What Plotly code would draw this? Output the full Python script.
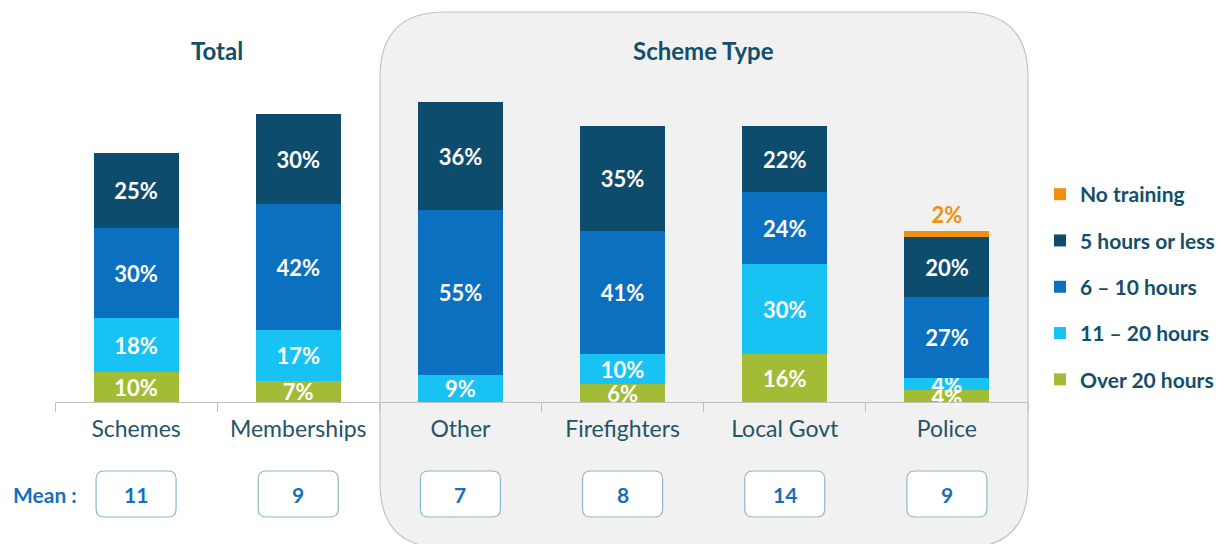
import plotly.graph_objects as go

categories = ["Schemes", "Memberships", "Other", "Firefighters", "Local Govt", "Police"]
over_20 = [10, 7, 0, 6, 16, 4]
h11_20 = [18, 17, 9, 10, 30, 4]
h6_10 = [30, 42, 55, 41, 24, 27]
h5_less = [25, 30, 36, 35, 22, 20]
no_training = [0, 0, 0, 0, 0, 2]
means = [11, 9, 7, 8, 14, 9]
group_titles = ["Total", "Scheme Type"]
group_title_pos = [0.5, 3.5]

series = [
    ("Over 20 hours", over_20, "#a2bd35"),
    ("11 \u2013 20 hours", h11_20, "#18c2f2"),
    ("6 \u2013 10 hours", h6_10, "#0b70bf"),
    ("5 hours or less", h5_less, "#0e4c6e"),
    ("No training", no_training, "#f0900e"),
]

FONT = "Lato, 'Open Sans', sans-serif"
OFF = 8  # page body margin
SW, SH = 1230, 544
W, H = SW - OFF, SH - OFF
# plot area in screen pixels
PX0, PX1, PY0, PY1 = 55, 1028, 72, 402
L, R, T, B = PX0 - OFF, W - (PX1 - OFF), PY0 - OFF, H - (PY1 - OFF)
PW, PH = PX1 - PX0, PY1 - PY0
YMAX = 110


def px_x(px):
    return (px - PX0) / PW


def px_y(py):
    return (PY1 - py) / PH


fig = go.Figure()
n = len(series)
for k, (name, vals, color) in enumerate(series):
    is_top = name == "No training"
    fig.add_trace(go.Bar(
        x=categories, y=vals, name=name, legendgroup=name,
        legendrank=n - k,
        marker=dict(color=color, line=dict(width=0)),
        text=[f"{v}%" if v else "" for v in vals],
        textposition="outside" if is_top else "inside",
        insidetextanchor="middle",
        textangle=0,
        textfont=dict(family=FONT, size=22, weight="bold",
                      color=color if is_top else "white"),
        cliponaxis=False,
        hoverinfo="skip",
    ))

shapes = []
# rounded background panel for "Scheme Type"
bx0, bx1, by0, by1, rad = 380, 1028, 12, 548, 65
rx, ry = rad / PW, rad / PH
X0, X1, Y0, Y1 = px_x(bx0), px_x(bx1), px_y(by0), px_y(by1)
path = (f"M {X0+rx},{Y0} L {X1-rx},{Y0} Q {X1},{Y0} {X1},{Y0-ry} "
        f"L {X1},{Y1+ry} Q {X1},{Y1} {X1-rx},{Y1} L {X0+rx},{Y1} "
        f"Q {X0},{Y1} {X0},{Y1+ry} L {X0},{Y0-ry} Q {X0},{Y0} {X0+rx},{Y0} Z")
shapes.append(dict(type="path", path=path, xref="paper", yref="paper",
                   fillcolor="#f1f1f1", line=dict(color="#c4c4c4", width=1.2),
                   layer="below"))

# mean boxes
mean_y = px_y(494)
bw, bh, br = 40, 23, 8
box_path = (f"M {-bw+br},{bh} L {bw-br},{bh} Q {bw},{bh} {bw},{bh-br} "
            f"L {bw},{-bh+br} Q {bw},{-bh} {bw-br},{-bh} L {-bw+br},{-bh} "
            f"Q {-bw},{-bh} {-bw},{-bh+br} L {-bw},{bh-br} Q {-bw},{bh} {-bw+br},{bh} Z")
annotations = []
for i, m in enumerate(means):
    shapes.append(dict(type="path", path=box_path, xref="x", yref="paper",
                       xsizemode="pixel", ysizemode="pixel",
                       xanchor=i, yanchor=mean_y,
                       fillcolor="white", line=dict(color="#8fb8c6", width=1.2),
                       layer="above"))
    annotations.append(dict(x=categories[i], y=mean_y, xref="x", yref="paper",
                            text=f"<b>{m}</b>", showarrow=False, yanchor="middle",
                            font=dict(family=FONT, size=21, color="#1570b8")))

annotations.append(dict(x=px_x(45), y=mean_y, xref="paper", yref="paper",
                        text="<b>Mean :</b>", showarrow=False, xanchor="center",
                        yanchor="middle",
                        font=dict(family=FONT, size=21, color="#1570b8")))

for t, pos in zip(group_titles, group_title_pos):
    annotations.append(dict(x=pos, y=px_y(50), xref="x", yref="paper",
                            text=f"<b>{t}</b>", showarrow=False, yanchor="middle",
                            font=dict(family=FONT, size=24, color="#134f6b")))

fig.update_layout(
    width=W, height=H,
    margin=dict(l=L, r=R, t=T, b=B, autoexpand=False),
    barmode="stack", bargap=1 - 85 / 162,
    paper_bgcolor="white", plot_bgcolor="rgba(0,0,0,0)",
    uniformtext=dict(mode="show", minsize=22),
    shapes=shapes, annotations=annotations,
    legend=dict(x=px_x(1040), y=px_y(174), xanchor="left", yanchor="top",
                traceorder="grouped", tracegroupgap=16,
                font=dict(family=FONT, size=21, color="#134f6b", weight="bold"),
                bgcolor="rgba(0,0,0,0)", itemclick=False, itemdoubleclick=False),
    showlegend=True,
    xaxis=dict(showline=True, linecolor="#c0c0c0", linewidth=1,
               ticks="outside", tickson="boundaries", ticklen=9,
               tickcolor="#c0c0c0", ticklabelstandoff=6,
               tickfont=dict(family=FONT, size=23, color="#245468"),
               showgrid=False, zeroline=False, fixedrange=True),
    yaxis=dict(range=[0, YMAX], visible=False, showgrid=False,
               zeroline=False, fixedrange=True),
)

fig.write_html("out.html", config={"displayModeBar": False})
